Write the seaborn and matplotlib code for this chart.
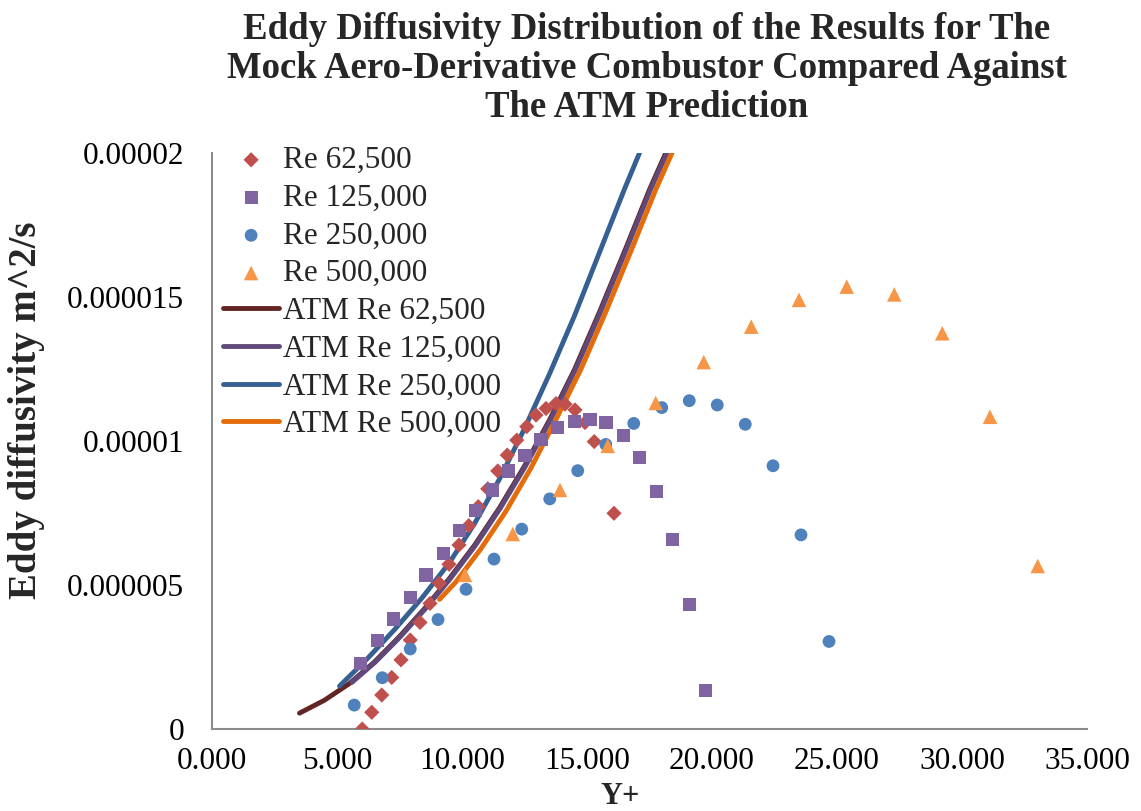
import numpy as np
import pandas as pd
import matplotlib
matplotlib.use("Agg")
import matplotlib.pyplot as plt
import seaborn as sns

# valori (Y+ e diffusivita in 1e-6 m^2/s)
re62_x = [6.01, 6.39, 6.79, 7.19, 7.56, 7.93, 8.32, 8.72, 9.09, 9.48, 9.88, 10.27, 10.65,
          11.03, 11.43, 11.81, 12.19, 12.59, 12.96, 13.36, 13.76, 14.12, 14.52, 14.92, 15.29, 16.08]
re62_y = [0.0, 0.58, 1.18, 1.79, 2.40, 3.09, 3.70, 4.36, 5.06, 5.72, 6.39, 7.06, 7.72,
          8.34, 8.96, 9.51, 10.03, 10.50, 10.90, 11.13, 11.30, 11.28, 11.08, 10.64, 9.98, 7.49]

re125_x = [5.93, 6.61, 7.25, 7.93, 8.56, 9.25, 9.89, 10.55, 11.21, 11.85, 12.52, 13.16,
           13.81, 14.49, 15.12, 15.76, 16.45, 17.09, 17.77, 18.41, 19.09, 19.73]
re125_y = [2.28, 3.06, 3.82, 4.57, 5.35, 6.10, 6.88, 7.60, 8.30, 8.96, 9.51, 10.05,
           10.46, 10.69, 10.76, 10.64, 10.18, 9.44, 8.25, 6.59, 4.32, 1.34]

re250_x = [5.69, 6.81, 7.93, 9.04, 10.16, 11.28, 12.39, 13.51, 14.63, 15.75, 16.87, 17.99,
           19.09, 20.21, 21.33, 22.44, 23.56, 24.68]
re250_y = [0.83, 1.78, 2.78, 3.80, 4.85, 5.90, 6.94, 7.99, 8.97, 9.88, 10.61, 11.16,
           11.40, 11.25, 10.58, 9.14, 6.74, 3.04]

re500_x = [10.12, 12.03, 13.92, 15.83, 17.75, 19.67, 21.57, 23.48, 25.39, 27.29, 29.21, 31.12, 33.03]
re500_y = [5.35, 6.77, 8.30, 9.83, 11.32, 12.74, 13.97, 14.90, 15.36, 15.09, 13.74, 10.84, 5.66]

# curve ATM (lette lungo le linee)
atm62_x = [3.5, 4.5, 5.5, 6.5, 7.5, 8.5, 9.5, 10.5, 11.5, 12.5, 13.5, 14.5, 15.5, 16.5, 17.5, 18.15]
atm62_y = [0.55, 1.00, 1.58, 2.33, 3.21, 4.18, 5.23, 6.38, 7.68, 9.13, 10.73, 12.48, 14.48, 16.58, 18.73, 20.0]

atm125_x = [5.6, 6.54, 7.54, 8.54, 9.54, 10.54, 11.54, 12.54, 13.54, 14.54, 15.54, 16.54, 17.54, 18.2]
atm125_y = [1.62, 2.33, 3.21, 4.18, 5.23, 6.38, 7.68, 9.13, 10.73, 12.48, 14.48, 16.58, 18.73, 20.0]

atm250_x = [5.1, 6.2, 7.3, 8.4, 9.5, 10.5, 11.5, 12.5, 13.5, 14.5, 15.5, 16.5, 17.1]
atm250_y = [1.49, 2.43, 3.45, 4.55, 5.78, 7.13, 8.68, 10.43, 12.33, 14.35, 16.55, 18.75, 20.0]

atm500_x = [9.1, 9.75, 10.75, 11.75, 12.75, 13.75, 14.75, 15.75, 16.75, 17.75, 18.4]
atm500_y = [4.50, 5.10, 6.25, 7.55, 9.05, 10.73, 12.48, 14.48, 16.58, 18.73, 20.0]

x_ticks = [0, 5, 10, 15, 20, 25, 30, 35]
x_tick_labels = ["0.000", "5.000", "10.000", "15.000", "20.000", "25.000", "30.000", "35.000"]
y_ticks = [0, 0.000005, 0.00001, 0.000015, 0.00002]
y_tick_labels = ["0", "0.000005", "0.00001", "0.000015", "0.00002"]

scale = 1e-6

sns.set_theme(style="white")
plt.rcParams["font.family"] = ["Liberation Serif", "DejaVu Serif"]

fig = plt.figure(figsize=(11.41, 8.11), dpi=100, facecolor="white")
ax = fig.add_axes([212 / 1141, 1 - 729 / 811, 875 / 1141, 576 / 811])

# linee ATM
lines = [
    (atm62_x, atm62_y, "#632523", "ATM Re 62,500"),
    (atm125_x, atm125_y, "#5F497A", "ATM Re 125,000"),
    (atm250_x, atm250_y, "#376092", "ATM Re 250,000"),
    (atm500_x, atm500_y, "#E46C0A", "ATM Re 500,000"),
]
for xs, ys, col, lab in lines:
    sns.lineplot(x=xs, y=np.array(ys) * scale, sort=False, estimator=None, color=col,
                 linewidth=3.5, label=lab, ax=ax, zorder=2,
                 solid_capstyle="round", solid_joinstyle="round")

# punti dei risultati
points = [
    (re62_x, re62_y, "#C0504D", "D", 60, "Re 62,500"),
    (re125_x, re125_y, "#8064A2", "s", 90, "Re 125,000"),
    (re250_x, re250_y, "#4F81BD", "o", 85, "Re 250,000"),
    (re500_x, re500_y, "#F79646", "^", 110, "Re 500,000"),
]
for xs, ys, col, mk, sz, lab in points:
    sns.scatterplot(x=xs, y=np.array(ys) * scale, color=col, marker=mk, s=sz,
                    edgecolor="none", label=lab, ax=ax, zorder=3)

ax.set_xlim(0, 35)
ax.set_ylim(0, 0.00002)
ax.set_xticks(x_ticks)
ax.set_xticklabels(x_tick_labels)
ax.set_yticks(y_ticks)
ax.set_yticklabels(y_tick_labels)
ax.tick_params(axis="both", length=0, labelsize=22.5, colors="black")
ax.tick_params(axis="x", pad=13)
ax.tick_params(axis="y", pad=20)
ax.set_xlabel("")
ax.set_ylabel("")
for side in ["top", "right"]:
    ax.spines[side].set_visible(False)
for side in ["left", "bottom"]:
    ax.spines[side].set_color("#8c8c8c")
    ax.spines[side].set_linewidth(1.5)

# legenda nello stesso ordine dell'originale
handles, labels = ax.get_legend_handles_labels()
order = ["Re 62,500", "Re 125,000", "Re 250,000", "Re 500,000",
         "ATM Re 62,500", "ATM Re 125,000", "ATM Re 250,000", "ATM Re 500,000"]
hmap = dict(zip(labels, handles))
leg = ax.legend([hmap[k] for k in order], order, loc="upper left",
                bbox_to_anchor=(223 / 1141, 1 - 146 / 811), bbox_transform=fig.transFigure,
                frameon=False, fontsize=22.5, handlelength=1.8, handletextpad=0.12,
                labelspacing=0.28, borderpad=0, borderaxespad=0)

# titolo e assi
fig.text(647 / 1141, 1 - 12 / 811,
         "Eddy Diffusivity Distribution of the Results for The\n"
         "Mock Aero-Derivative Combustor Compared Against\n"
         "The ATM Prediction",
         ha="center", va="top", fontsize=26.5, fontweight="bold", linespacing=1.14)
fig.text(27 / 1141, 1 - 410 / 811, "Eddy diffusivity m^2/s", rotation=90,
         ha="center", va="center", fontsize=28, fontweight="bold")
fig.text(620 / 1141, 1 - 811 / 811, "Y+", ha="center", va="bottom",
         fontsize=22, fontweight="bold")

plt.savefig("out.png", dpi=100, facecolor="white")
